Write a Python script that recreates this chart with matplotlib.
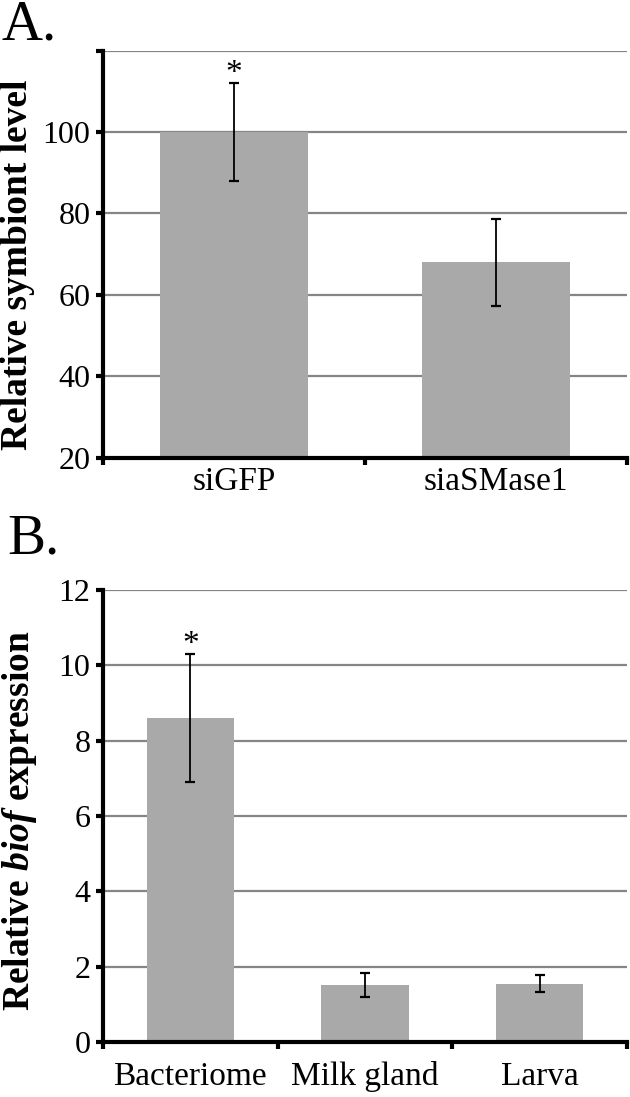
import numpy as np
import matplotlib.pyplot as plt

plt.rcParams['font.family'] = 'Liberation Serif'
plt.rcParams['mathtext.fontset'] = 'custom'
plt.rcParams['mathtext.rm'] = 'Liberation Serif'
plt.rcParams['mathtext.bf'] = 'Liberation Serif:bold'
plt.rcParams['mathtext.it'] = 'Liberation Serif:italic'
plt.rcParams['mathtext.bfit'] = 'Liberation Serif:italic:bold'

# panel A
labels_a = ['siGFP', 'siaSMase1']
vals_a = [100, 68]
err_a = [12, 10.7]
star_a = [True, False]

# panel B
labels_b = ['Bacteriome', 'Milk gland', 'Larva']
vals_b = [8.6, 1.52, 1.55]
err_b = [1.7, 0.32, 0.23]
star_b = [True, False, False]

bar_color = '#a9a9a9'
grid_color = '#858585'

fig = plt.figure(figsize=(6.3, 10.97), dpi=100)
ax1 = fig.add_axes([0.1635, 0.5828, 0.8317, 0.371])
ax2 = fig.add_axes([0.1635, 0.0501, 0.8317, 0.4121])


def style(ax, labels, vals, err, stars, ylim, ystep, width, xpad):
    n = len(labels)
    x = np.arange(n) + 0.5
    ax.set_axisbelow(True)
    ax.yaxis.grid(True, color=grid_color, linewidth=1.6)
    ax.bar(x, vals, width=width, color=bar_color, zorder=2)
    ax.errorbar(x, vals, yerr=err, fmt='none', ecolor='black', elinewidth=1.3,
                capsize=3.8, capthick=1.6, zorder=3)
    for xi, v, e, s in zip(x, vals, err, stars):
        if s:
            ax.annotate('*', (xi, v + e), xytext=(0, 7), textcoords='offset points',
                        ha='center', va='center', fontsize=24)
    ax.set_xlim(0, n)
    ax.set_ylim(*ylim)
    ax.set_yticks(np.arange(ylim[0], ylim[1] + 0.01, ystep))
    ax.set_xticks(x)
    ax.set_xticklabels(labels, fontsize=24)
    ax.set_xticks(np.arange(n + 1), minor=True)
    ax.tick_params(axis='x', which='major', length=0, pad=xpad)
    ax.tick_params(axis='x', which='minor', length=5, width=3, direction='out')
    ax.tick_params(axis='y', length=5, width=3, direction='out', labelsize=23, pad=4)
    for sp in ['top', 'right']:
        ax.spines[sp].set_visible(False)
    for sp in ['left', 'bottom']:
        ax.spines[sp].set_linewidth(3)


style(ax1, labels_a, vals_a, err_a, star_a, (20, 120), 20, 0.565, 6)
style(ax2, labels_b, vals_b, err_b, star_b, (0, 12), 2, 0.5, 14)

# top tick of panel A has no label
ax1.set_yticks([20, 40, 60, 80, 100, 120])
ax1.set_yticklabels(['20', '40', '60', '80', '100', ''])

ax1.set_ylabel('Relative symbiont level', fontsize=27, fontweight='bold')
ax1.yaxis.set_label_coords(-0.13, 0.475)
ax2.set_ylabel(r'Relative $\mathbfit{biof}$ expression', fontsize=27, fontweight='bold')
ax2.yaxis.set_label_coords(-0.123, 0.49)

fig.text(0.003, 1 - 39 / 1097, 'A.', fontsize=41, ha='left', va='baseline')
fig.text(0.011, 1 - 553 / 1097, 'B.', fontsize=41, ha='left', va='baseline')

fig.savefig('out.png', dpi=100)
